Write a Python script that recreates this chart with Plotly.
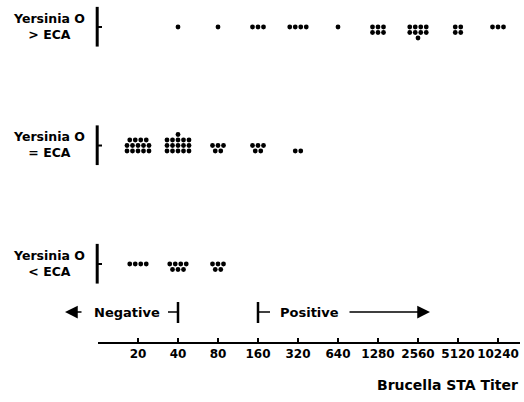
import plotly.graph_objects as go

# ---- data -------------------------------------------------------------
titers = ["20", "40", "80", "160", "320", "640", "1280", "2560", "5120", "10240"]
group_labels = ["Yersinia O<br>&gt; ECA", "Yersinia O<br>= ECA", "Yersinia O<br>&lt; ECA"]

# number of patients per titer, given as dots per row (top row first)
rows_gt = {"40": [1], "80": [1], "160": [3], "320": [4], "640": [1],
           "1280": [3, 3], "2560": [4, 4, 1], "5120": [2, 2], "10240": [3]}
rows_eq = {"20": [4, 5, 5], "40": [1, 5, 5, 5], "80": [3, 2], "160": [3, 2], "320": [2]}
rows_lt = {"20": [4], "40": [4, 3], "80": [3, 2]}

# ---- layout helpers ---------------------------------------------------
W, H = 524, 402
ML, MR, MT, MB = 98, 4, 0, 60
XR = [0, 10.55]
YR = [-0.658, 2.228]
px_x = (W - ML - MR) / (XR[1] - XR[0])
px_y = (H - MT - MB) / (YR[1] - YR[0])
dx = 5.5 / px_x      # horizontal dot pitch
dy = 5.5 / px_y      # vertical dot pitch

groups = [
    (rows_gt, 2, "down"),
    (rows_eq, 1, "up"),
    (rows_lt, 0, "down"),
]

xs, ys = [], []
for rows, gy, direction in groups:
    for t, rlist in rows.items():
        xc = titers.index(t) + 1
        n = len(rlist)
        for r, cnt in enumerate(rlist):
            if direction == "down":
                yrow = gy - r * dy
            else:
                yrow = gy - dy + (n - 1 - r) * dy
            for k in range(cnt):
                xs.append(xc + (k - (cnt - 1) / 2) * dx)
                ys.append(yrow)

fig = go.Figure()
fig.add_trace(go.Scatter(
    x=xs, y=ys, mode="markers",
    marker=dict(size=4.8, color="black", line=dict(width=0)),
    hoverinfo="skip", showlegend=False, cliponaxis=False,
))

BOLD = "DejaVu Sans"
shapes = []
annotations = []
bx = -0.8 / (W - ML - MR)
tick_end = 4.0 / (W - ML - MR)
for lab, (_, gy, _) in zip(group_labels, groups):
    shapes.append(dict(type="line", xref="paper", yref="y", x0=bx, x1=bx,
                       y0=gy - 0.165, y1=gy + 0.17, line=dict(color="black", width=3)))
    shapes.append(dict(type="line", xref="paper", yref="y", x0=bx, x1=tick_end,
                       y0=gy, y1=gy, line=dict(color="black", width=2)))
    annotations.append(dict(text=lab, xref="paper", yref="y", x=-11 / (W - ML - MR), y=gy,
                            xanchor="right", yanchor="middle", align="center", showarrow=False,
                            yshift=1, font=dict(family=BOLD, size=12.5, color="black", weight="bold")))

# Negative / Positive markers
ybar0 = (H - MB - 323) / (H - MT - MB)
ybar1 = (H - MB - 302) / (H - MT - MB)
ymid = (H - MB - 312) / (H - MT - MB)
neg_x = titers.index("40") + 1
pos_x = titers.index("160") + 1
shapes += [
    dict(type="line", xref="x", yref="paper", x0=neg_x, x1=neg_x, y0=ybar0, y1=ybar1,
         line=dict(color="black", width=2.5)),
    dict(type="line", xref="x", yref="paper", x0=neg_x - 10 / px_x, x1=neg_x, y0=ymid, y1=ymid,
         line=dict(color="black", width=1.5)),
    dict(type="line", xref="x", yref="paper", x0=pos_x, x1=pos_x, y0=ybar0, y1=ybar1,
         line=dict(color="black", width=2.5)),
    dict(type="line", xref="x", yref="paper", x0=pos_x, x1=pos_x + 12 / px_x, y0=ymid, y1=ymid,
         line=dict(color="black", width=1.5)),
]
annotations += [
    dict(text="Negative", xref="paper", yref="paper", x=(127 - ML) / (W - ML - MR), y=ymid,
         xanchor="center", yanchor="middle", showarrow=False,
         font=dict(family=BOLD, size=13, color="black", weight="bold")),
    dict(text="Positive", xref="paper", yref="paper", x=(309 - ML) / (W - ML - MR), y=ymid,
         xanchor="center", yanchor="middle", showarrow=False,
         font=dict(family=BOLD, size=13, color="black", weight="bold")),
    dict(text="", xref="paper", yref="paper", x=(65 - ML) / (W - ML - MR), y=ymid,
         ax=18, ay=0, showarrow=True, arrowhead=2, arrowsize=1.7, arrowwidth=1.5,
         arrowcolor="black"),
    dict(text="", xref="paper", yref="paper", x=(430 - ML) / (W - ML - MR), y=ymid,
         ax=-82, ay=0, showarrow=True, arrowhead=2, arrowsize=1.7, arrowwidth=1.5,
         arrowcolor="black"),
    dict(text="Brucella STA Titer", xref="paper", yref="paper", x=1, y=(H - MB - 385) / (H - MT - MB),
         xanchor="right", yanchor="middle", xshift=0, showarrow=False,
         font=dict(family=BOLD, size=14, color="black", weight="bold")),
]

fig.update_layout(
    width=W, height=H,
    margin=dict(l=ML, r=MR, t=MT, b=MB),
    paper_bgcolor="white", plot_bgcolor="white",
    shapes=shapes, annotations=annotations,
    xaxis=dict(range=XR, tickvals=list(range(1, len(titers) + 1)), ticktext=titers,
               ticks="inside", ticklen=4, tickwidth=1.5, tickcolor="black",
               showline=True, linewidth=2, linecolor="black", showgrid=False, zeroline=False,
               tickfont=dict(family=BOLD, size=12, color="black", weight="bold"),
               fixedrange=True),
    yaxis=dict(range=YR, visible=False, fixedrange=True),
)

fig.write_html(
    "out.html",
    config={"displayModeBar": False},
    post_script="document.body.style.margin='0';document.body.style.overflow='hidden';",
)
